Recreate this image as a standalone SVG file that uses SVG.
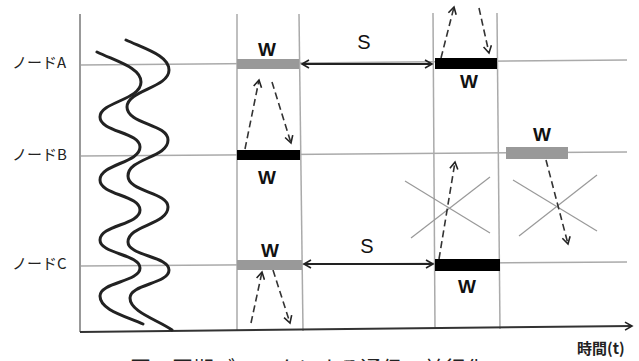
<svg xmlns="http://www.w3.org/2000/svg" width="639" height="361" viewBox="0 0 639 361">
<defs>
<marker id="arr" markerWidth="10" markerHeight="10" refX="8" refY="5" orient="auto-start-reverse" markerUnits="userSpaceOnUse">
<path d="M1,1 L8,5 L1,9" fill="none" stroke="#222" stroke-width="1.6"/>
</marker>
<style>
.grid{stroke:#aaa;stroke-width:1.5;fill:none}
.axis{stroke:#333;stroke-width:2;fill:none}
.xline{stroke:#999;stroke-width:1.2;fill:none}
.wave{stroke:#222;stroke-width:3;fill:none;stroke-linecap:round}
.dash{stroke:#333;stroke-width:1.6;fill:none;stroke-dasharray:7 4}
.dbl{stroke:#222;stroke-width:2;fill:none}
.gbar{fill:#999}
.bbar{fill:#000}
.w{font-family:"Liberation Sans",Arial,sans-serif;font-weight:bold;font-size:19px;fill:#111;text-anchor:middle}
.s{font-family:"Liberation Sans",Arial,sans-serif;font-size:20px;fill:#111;text-anchor:middle}
.node{font-family:"Noto Sans CJK JP",sans-serif;font-size:15px;fill:#222}
.cap{font-family:"Noto Sans CJK JP",sans-serif;font-size:21px;fill:#222}
</style>
</defs>

<g id="grid">
<line class="grid" x1="80" y1="65" x2="627" y2="60"/>
<line class="grid" x1="80" y1="156" x2="627" y2="152"/>
<line class="grid" x1="80" y1="266" x2="627" y2="262"/>
<line class="grid" x1="237" y1="14" x2="237" y2="331"/>
<line class="grid" x1="299" y1="14" x2="303" y2="331"/>
<line class="grid" x1="433" y1="13" x2="435" y2="329"/>
<line class="grid" x1="497" y1="13" x2="500" y2="329"/>
<line x1="80" y1="14" x2="80" y2="332" stroke="#999" stroke-width="2"/>
</g>

<g id="axis">
<line class="axis" x1="80" y1="332" x2="632" y2="326" marker-end="url(#arr)"/>
</g>

<g id="waves">
<path class="wave" d="M97,52 C118,62 141,68 141,82 C141,100 100,102 100,117 C100,132 140,132 140,147 C140,163 100,164 100,180 C100,195 140,195 140,210 C140,225 100,225 100,240 C100,254 140,254 140,268 C140,282 100,282 100,296 C100,310 125,316 143,324"/>
<path class="wave" d="M126,40 C148,50 169,56 169,70 C169,88 127,90 127,107 C127,124 168,124 168,140 C168,158 128,158 128,176 C128,192 168,192 168,207 C168,225 128,225 128,242 C128,256 169,256 169,270 C169,284 130,284 130,298 C130,312 158,320 172,330"/>
</g>

<g id="labels">
<text class="node" x="12" y="68">ノードA</text>
<text class="node" x="12" y="160">ノードB</text>
<text class="node" x="12" y="269">ノードC</text>
<text class="node" x="577" y="354" font-size="14" font-weight="bold">時間(t)</text>
<text class="cap" x="130" y="376">図　同期ブロックによる通信の並行化</text>
</g>

<g id="crosses">
<line class="xline" x1="405" y1="181" x2="490" y2="233"/>
<line class="xline" x1="411" y1="238" x2="490" y2="177"/>
<line class="xline" x1="513" y1="180" x2="597" y2="231"/>
<line class="xline" x1="519" y1="236" x2="597" y2="175"/>
</g>

<g id="connectors">
<line class="dbl" x1="302" y1="64" x2="432" y2="64" marker-start="url(#arr)" marker-end="url(#arr)"/>
<line class="dbl" x1="304" y1="264" x2="433" y2="264" marker-start="url(#arr)" marker-end="url(#arr)"/>
<line class="dash" x1="245" y1="149" x2="259" y2="80" marker-end="url(#arr)"/>
<line class="dash" x1="272" y1="82" x2="291" y2="143" marker-end="url(#arr)"/>
<line class="dash" x1="251" y1="323" x2="262" y2="272" marker-end="url(#arr)"/>
<line class="dash" x1="273" y1="270" x2="290" y2="323" marker-end="url(#arr)"/>
<line class="dash" x1="441" y1="58" x2="454" y2="7" marker-end="url(#arr)"/>
<line class="dash" x1="479" y1="8" x2="489" y2="53" marker-end="url(#arr)"/>
<line class="dash" x1="439" y1="259" x2="455" y2="162" marker-end="url(#arr)"/>
<line class="dash" x1="546" y1="160" x2="568" y2="244" marker-end="url(#arr)"/>
</g>

<g id="A1"><rect class="gbar" x="237" y="59" width="62" height="10"/><text class="w" x="267" y="56">W</text></g>
<g id="B1"><rect class="bbar" x="237" y="150" width="63" height="10"/><text class="w" x="267" y="184">W</text></g>
<g id="C1"><rect class="gbar" x="237" y="260" width="65" height="10"/><text class="w" x="270" y="257">W</text></g>
<g id="A2"><rect class="bbar" x="435" y="58" width="62" height="11"/><text class="w" x="469" y="88">W</text></g>
<g id="C2"><rect class="bbar" x="435" y="259" width="65" height="12"/><text class="w" x="467" y="293">W</text></g>
<g id="B3"><rect class="gbar" x="506" y="147" width="62" height="12"/><text class="w" x="542" y="141">W</text></g>
<g id="S1"><text class="s" x="364" y="49">S</text></g>
<g id="S2"><text class="s" x="367" y="253">S</text></g>
</svg>
